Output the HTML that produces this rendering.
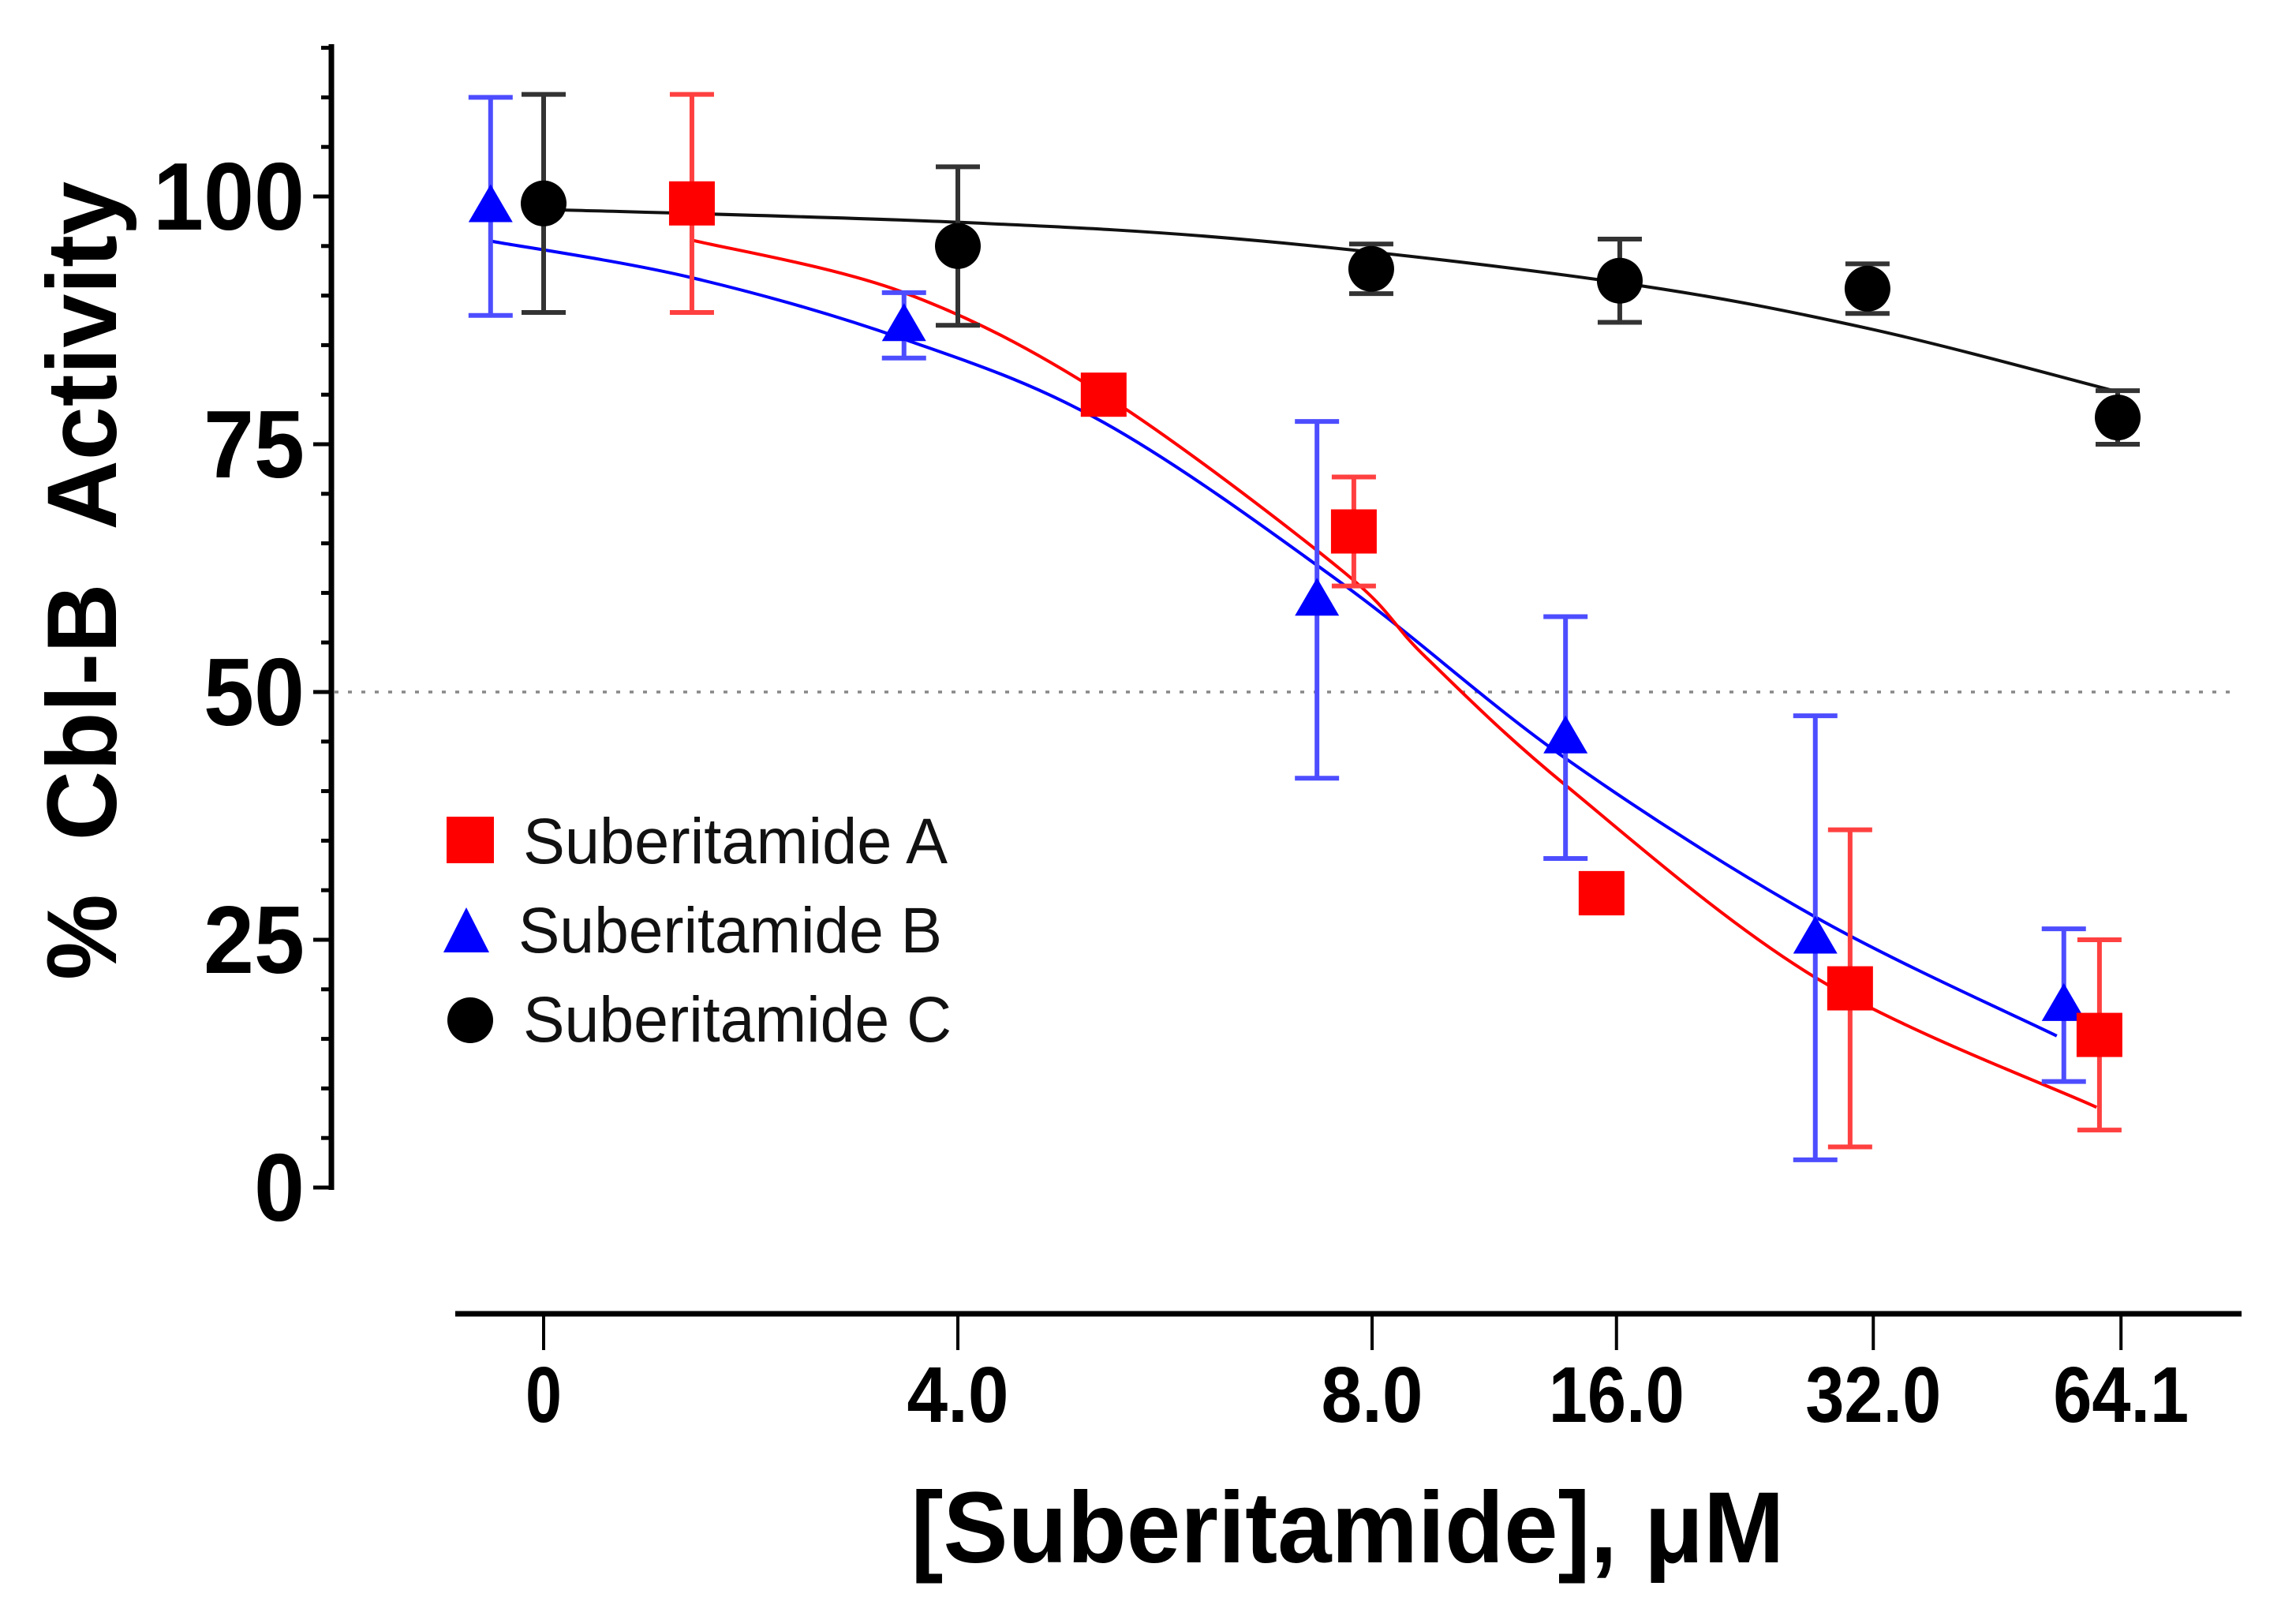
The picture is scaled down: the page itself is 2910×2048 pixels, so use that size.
<!DOCTYPE html>
<html><head><meta charset="utf-8"><style>
html,body{margin:0;padding:0;background:#fff;}
svg{display:block;}
</style></head><body>
<svg id="chart" width="2910" height="2048" viewBox="0 0 2910 2048" xmlns="http://www.w3.org/2000/svg" font-family="'Liberation Sans', sans-serif">
<g id="axes"></g>
<g id="curves"></g>
<g id="points"></g>
<g id="legend">
  <rect x="566" y="1035" width="60" height="59" fill="#ff0000"/>
  <text x="663" y="1094" font-size="82" textLength="538" lengthAdjust="spacingAndGlyphs" fill="#111">Suberitamide A</text>
  <polygon points="591,1150 562,1207 620,1207" fill="#0000ff"/>
  <text x="657" y="1207" font-size="82" textLength="537" lengthAdjust="spacingAndGlyphs" fill="#111">Suberitamide B</text>
  <circle cx="596" cy="1293" r="29" fill="#000"/>
  <text x="663" y="1320" font-size="82" textLength="543" lengthAdjust="spacingAndGlyphs" fill="#111">Suberitamide C</text>
</g>
<text transform="translate(147,736) rotate(-90)" text-anchor="middle" font-size="125" font-weight="bold" textLength="1012" lengthAdjust="spacingAndGlyphs">%&#160;&#160;Cbl-B&#160;&#160;Activity</text>
<text x="1708" y="1980" text-anchor="middle" font-size="128" font-weight="bold" textLength="1107" lengthAdjust="spacingAndGlyphs">[Suberitamide], μM</text>
</svg>
<script>
// x positions in axis units (0 -> "0", 1 -> "4.0", ...); y in % activity
const xTickUnits = [0, 1, 2, 2.59, 3.21, 3.808];
const xTickLabels = ["0", "4.0", "8.0", "16.0", "32.0", "64.1"];
const yMajorTicks = [0, 25, 50, 75, 100];
const yTickLabels = ["0", "25", "50", "75", "100"];

const aX = [0.358, 1.352, 1.956, 2.554, 3.154, 3.756];
const aY = [99.3, 80.0, 66.2, 29.7, 20.1, 15.4];
const aErr = [11, 1, 5.5, 2, 16, 9.6];
const bX = [-0.128, 0.870, 1.867, 2.467, 3.070, 3.670];
const bY = [99.0, 87.0, 59.3, 45.4, 25.2, 18.4];
const bErr = [11, 3.3, 18, 12.2, 22.4, 7.7];
const cX = [0, 1.0, 1.998, 2.598, 3.196, 3.800];
const cY = [99.3, 95.0, 92.7, 91.5, 90.7, 77.7];
const cErr = [11, 8, 2.5, 4.2, 2.5, 2.7];

const aFitX = [0.358, 0.87, 1.352, 1.926, 2.13, 2.467, 3.07, 3.749];
const aFitY = [95.6, 90.3, 80.0, 62.3, 53.5, 40.6, 21.2, 8.1];
const bFitX = [-0.128, 0.358, 0.87, 1.352, 1.926, 2.467, 3.07, 3.653];
const bFitY = [95.5, 91.8, 85.6, 77.2, 61.0, 43.3, 27.3, 15.3];
const cFitX = [0, 1, 1.735, 2.598, 3.196, 3.80];
const cFitY = [98.7, 97.4, 95.5, 91.3, 86.7, 80.3];

const NS = "http://www.w3.org/2000/svg";
const X = u => 689 + 525 * u;
const Y = v => 1505 - 12.56 * v;
function mk(tag, attrs, parent) {
  const e = document.createElementNS(NS, tag);
  for (const k in attrs) e.setAttribute(k, attrs[k]);
  parent.appendChild(e);
  return e;
}
const axes = document.getElementById('axes');
let e = mk('line', {x1: 420, y1: 56, x2: 420, y2: 1508, stroke: '#000', 'stroke-width': 7}, axes);


for (let v = 0; v <= 115; v += 5) {
  const major = v % 25 === 0;
  e = mk('line', {x1: major ? 397 : 407, y1: Y(v), x2: 420, y2: Y(v), stroke: '#000', 'stroke-width': 5}, axes);
  
  
}
yMajorTicks.forEach((v, i) => {
  const lab = yTickLabels[i];
  const t = mk('text', {x: 386, y: Y(v) + 42, 'text-anchor': 'end', 'font-size': 122, 'font-weight': 'bold', textLength: 64 * lab.length, lengthAdjust: 'spacingAndGlyphs'}, axes);
  t.textContent = lab;
  
  
});
e = mk('line', {x1: 577, y1: 1665, x2: 2841, y2: 1665, stroke: '#000', 'stroke-width': 7}, axes);


xTickUnits.forEach((u, i) => {
  e = mk('line', {x1: X(u), y1: 1665, x2: X(u), y2: 1711, stroke: '#000', 'stroke-width': 4}, axes);
  
  
  const lab = xTickLabels[i];
  const t = mk('text', {x: X(u), y: 1802, 'text-anchor': 'middle', 'font-size': 100, 'font-weight': 'bold', textLength: lab.length === 1 ? 46 : lab.length * 43, lengthAdjust: 'spacingAndGlyphs'}, axes);
  t.textContent = lab;
  
  
});
e = mk('line', {x1: 424, y1: Y(50), x2: 2828, y2: Y(50), stroke: '#888', 'stroke-width': 3.5, 'stroke-dasharray': '5 12'}, axes);



function curvePath(xs, ys) {
  const p = xs.map((x, i) => [X(x), Y(ys[i])]);
  let d = 'M' + p[0][0] + ',' + p[0][1];
  for (let i = 0; i < p.length - 1; i++) {
    const p0 = p[i - 1] || p[i], p1 = p[i], p2 = p[i + 1], p3 = p[i + 2] || p2;
    const c1 = [p1[0] + (p2[0] - p0[0]) / 6, p1[1] + (p2[1] - p0[1]) / 6];
    const c2 = [p2[0] - (p3[0] - p1[0]) / 6, p2[1] - (p3[1] - p1[1]) / 6];
    d += ' C' + c1[0] + ',' + c1[1] + ' ' + c2[0] + ',' + c2[1] + ' ' + p2[0] + ',' + p2[1];
  }
  return d;
}
const curves = document.getElementById('curves');
e = mk('path', {d: curvePath(cFitX, cFitY), fill: 'none', stroke: '#111', 'stroke-width': 4}, curves);


e = mk('path', {d: curvePath(bFitX, bFitY), fill: 'none', stroke: '#0000ff', 'stroke-width': 4}, curves);


e = mk('path', {d: curvePath(aFitX, aFitY), fill: 'none', stroke: '#ff0000', 'stroke-width': 4}, curves);



const pts = document.getElementById('points');
function errbar(x, y, err, color) {
  const cx = X(x), t = Y(y + err), b = Y(y - err);
  let l = mk('line', {x1: cx, y1: t, x2: cx, y2: b, stroke: color, 'stroke-width': 6}, pts);
  
  
  l = mk('line', {x1: cx - 28, y1: t, x2: cx + 28, y2: t, stroke: color, 'stroke-width': 6}, pts);
  
  
  l = mk('line', {x1: cx - 28, y1: b, x2: cx + 28, y2: b, stroke: color, 'stroke-width': 6}, pts);
  
  
}
cX.forEach((x, i) => {
  errbar(x, cY[i], cErr[i], '#333');
  const m = mk('circle', {cx: X(x), cy: Y(cY[i]), r: 29, fill: '#000'}, pts);
  
  
});
bX.forEach((x, i) => {
  errbar(x, bY[i], bErr[i], '#4d4dff');
  const cx = X(x), cy = Y(bY[i]);
  const m = mk('polygon', {points: (cx) + ',' + (cy - 28) + ' ' + (cx - 28) + ',' + (cy + 20) + ' ' + (cx + 28) + ',' + (cy + 20), fill: '#0000ff'}, pts);
  
  
});
aX.forEach((x, i) => {
  errbar(x, aY[i], aErr[i], '#ff4040');
  const m = mk('rect', {x: X(x) - 29, y: Y(aY[i]) - 28, width: 58, height: 56, fill: '#ff0000'}, pts);
  
  
});
</script>
</body></html>
